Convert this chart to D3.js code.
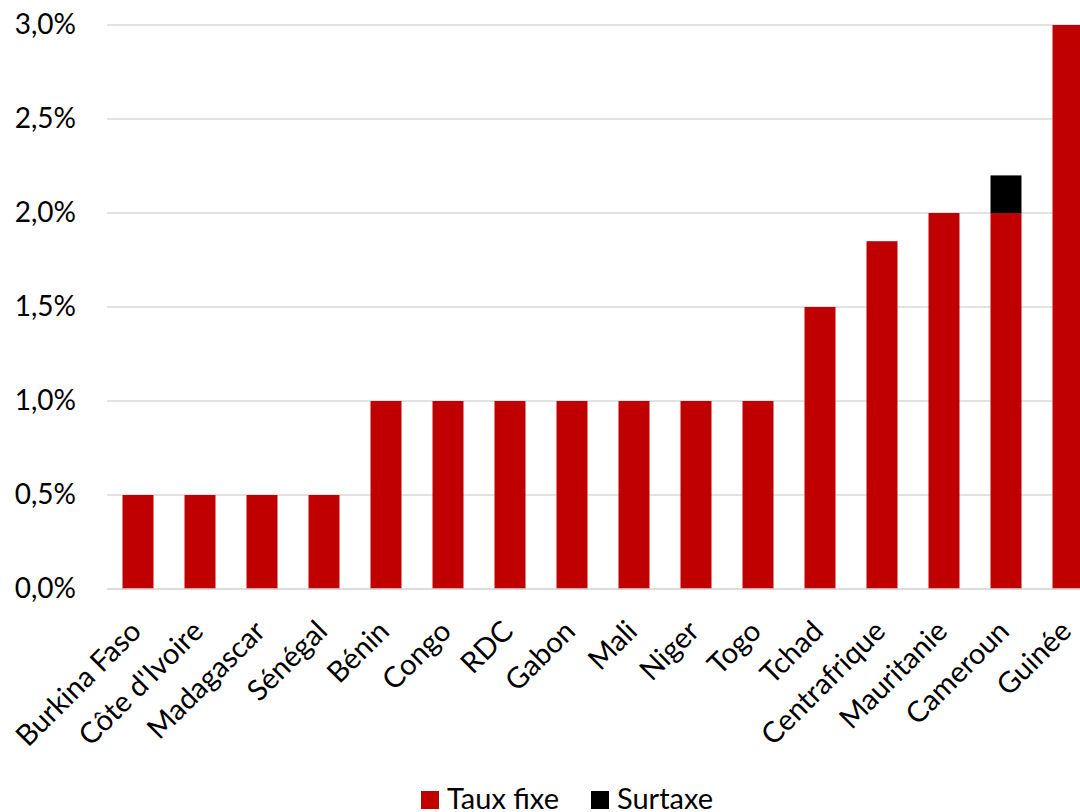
<!DOCTYPE html>
<html>
<head>
<meta charset="utf-8">
<script src="https://cdn.jsdelivr.net/npm/d3@7"></script>
<style>
  html, body { margin: 0; padding: 0; background: #fff; }
  svg { display: block; font-family: Lato, "Open Sans", sans-serif; }
</style>
</head>
<body>
<svg id="chart" width="1080" height="812"></svg>
<script>
// Countries, sorted by rate
const countries = ["Burkina Faso", "Côte d'Ivoire", "Madagascar", "Sénégal", "Bénin", "Congo", "RDC",
  "Gabon", "Mali", "Niger", "Togo", "Tchad", "Centrafrique", "Mauritanie", "Cameroun", "Guinée"];
// Fixed rate (%)
const tauxFixe = [0.5, 0.5, 0.5, 0.5, 1.0, 1.0, 1.0, 1.0, 1.0, 1.0, 1.0, 1.5, 1.85, 2.0, 2.0, 3.0];
// Additional surcharge (%)
const surtaxe = [0, 0, 0, 0, 0, 0, 0, 0, 0, 0, 0, 0, 0, 0, 0.2, 0];
const yTicks = [0, 0.5, 1.0, 1.5, 2.0, 2.5, 3.0];
const seriesNames = ["Taux fixe", "Surtaxe"];
const seriesColors = ["#C00000", "#000000"];

const svg = d3.select("#chart");
const plotLeft = 107, plotRight = 1099, plotTop = 25, plotBottom = 589;

const x = d3.scaleBand().domain(countries).range([plotLeft, plotRight]).paddingInner(0.5).paddingOuter(0.25);
const y = d3.scaleLinear().domain([0, 3]).range([plotBottom, plotTop]);

const fmt = v => d3.format(".1f")(v).replace(".", ",") + "%";

// Gridlines
svg.append("g").selectAll("line").data(yTicks).join("line")
  .attr("x1", plotLeft).attr("x2", 1080)
  .attr("y1", d => y(d)).attr("y2", d => y(d))
  .attr("stroke", "#d9d9d9").attr("stroke-width", 1.5);

// Y axis labels
const yAxis = d3.axisLeft(y).tickValues(yTicks).tickFormat(fmt).tickSize(0).tickPadding(0);
svg.append("g").attr("transform", "translate(76,0)").call(yAxis)
  .call(g => g.select(".domain").remove())
  .call(g => g.selectAll("text").attr("font-size", 28).attr("fill", "#000")
    .attr("font-family", "Lato, 'Open Sans', sans-serif"));

// Stacked bars
const rows = countries.map((c, i) => ({ country: c, "Taux fixe": tauxFixe[i], "Surtaxe": surtaxe[i] }));
const stacked = d3.stack().keys(seriesNames)(rows);
svg.append("g").selectAll("g").data(stacked).join("g")
  .attr("fill", (d, i) => seriesColors[i])
  .selectAll("rect").data(d => d.filter(p => p[1] > p[0])).join("rect")
  .attr("x", d => x(d.data.country))
  .attr("width", x.bandwidth())
  .attr("y", d => y(d[1]))
  .attr("height", d => y(d[0]) - y(d[1]));

// Baseline
svg.append("line").attr("x1", plotLeft).attr("x2", 1080).attr("y1", y(0)).attr("y2", y(0))
  .attr("stroke", "#d9d9d9").attr("stroke-width", 1.5);

// X axis labels, rotated
const xAxis = d3.axisBottom(x).tickSize(0).tickPadding(0);
svg.append("g").attr("transform", `translate(0,${plotBottom})`).call(xAxis)
  .call(g => g.select(".domain").remove())
  .call(g => g.selectAll("text")
    .attr("font-size", 29).attr("fill", "#000")
    .attr("font-family", "Lato, 'Open Sans', sans-serif")
    .attr("text-anchor", "end")
    .attr("dy", null).attr("y", 0)
    .attr("transform", "translate(5,44) rotate(-45)"));

// Legend
const legend = svg.append("g");
const legendX = [421, 591];
seriesNames.forEach((name, i) => {
  legend.append("rect").attr("x", legendX[i]).attr("y", 791).attr("width", 18).attr("height", 18)
    .attr("fill", seriesColors[i]);
  legend.append("text").attr("x", legendX[i] + 26).attr("y", 809)
    .attr("font-size", 29).attr("fill", "#000").text(name);
});
</script>
</body>
</html>
